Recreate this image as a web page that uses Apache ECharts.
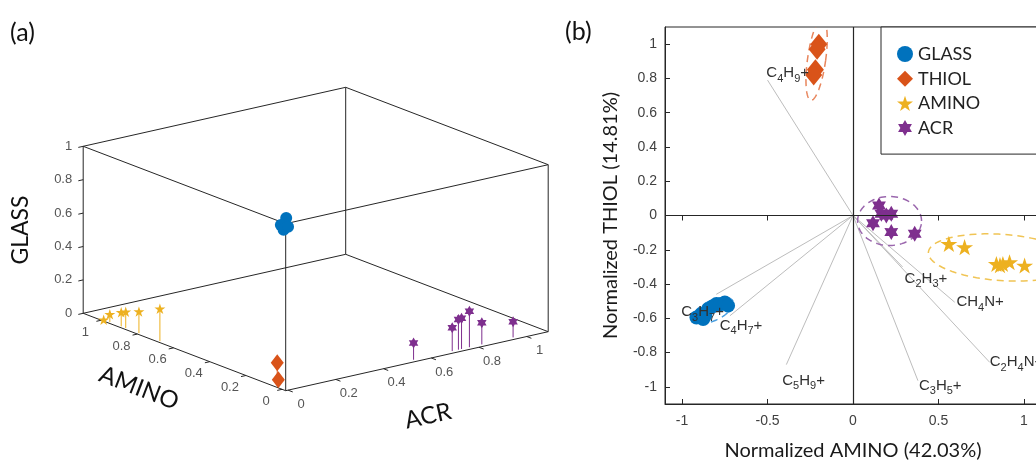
<!DOCTYPE html>
<html><head><meta charset="utf-8">
<script src="https://cdn.jsdelivr.net/npm/echarts@6/dist/echarts.min.js"></script>
<style>html,body{margin:0;padding:0;background:#fff}#c{width:1036px;height:461px}</style>
</head><body><div id="c"></div><script>
// ================= DATA =================
// Panel (a): 3D normalized values (AMINO, ACR, GLASS) per sample
const glass3dAmino = [0.03, 0.02, 0.005, 0.0];
const glass3dAcr   = [0.03, 0.0, 0.0, 0.015];
const glass3dGlass = [1.0, 0.972, 0.95, 0.966];
const thiol3dAmino = [0.04, 0.034];
const thiol3dAcr   = [0.0, 0.0];
const thiol3dGlass = [0.14, 0.04];
const amino3dAmino = [1.0, 0.966, 0.903, 0.878, 0.805, 0.689];
const amino3dAcr   = [0, 0, 0, 0, 0, 0];
const amino3dGlass = [0.0, 0.046, 0.084, 0.098, 0.129, 0.194];
const acr3dAmino   = [0, 0, 0, 0, 0, 0, 0];
const acr3dAcr     = [0.541, 0.703, 0.729, 0.742, 0.775, 0.827, 0.958];
const acr3dGlass   = [0.10, 0.14, 0.18, 0.184, 0.216, 0.13, 0.093];
const ticks3d      = [0, 0.2, 0.4, 0.6, 0.8, 1];
const tickLabels3d = ['0', '0.2', '0.4', '0.6', '0.8', '1'];

// Panel (b): biplot scores
const glassX = [-0.916, -0.887, -0.877, -0.865, -0.848, -0.82, -0.799, -0.78, -0.750, -0.731];
const glassY = [-0.595, -0.575, -0.604, -0.585, -0.546, -0.53, -0.516, -0.52, -0.507, -0.526];
const thiolX = [-0.20, -0.21, -0.22, -0.23];
const thiolY = [1.00, 0.97, 0.85, 0.82];
const aminoX = [0.561, 0.653, 0.839, 0.860, 0.877, 0.916, 1.004];
const aminoY = [-0.166, -0.185, -0.283, -0.290, -0.283, -0.273, -0.292];
const acrX   = [0.152, 0.166, 0.117, 0.195, 0.224, 0.224, 0.361];
const acrY   = [0.058, 0.010, -0.045, 0.0, 0.010, -0.097, -0.107];
// loading vectors (tips) and their text anchors
const loadNames = ['C4H9+', 'C3H7+', 'C4H7+', 'C5H9+', 'C2H3+', 'CH4N+', 'C2H4N+', 'C3H5+'];
const loadX  = [-0.50, -0.80, -0.72, -0.39, 0.29, 0.595, 0.80, 0.38];
const loadY  = [0.79, -0.46, -0.585, -0.87, -0.30, -0.506, -0.857, -0.964];
const labelX = [-0.507, -1.005, -0.78, -0.414, 0.302, 0.605, 0.80, 0.386];
const labelY = [0.83, -0.565, -0.643, -0.964, -0.37, -0.506, -0.857, -0.993];
// confidence ellipses: GLASS, THIOL, AMINO, ACR
const ellCx  = [-0.82, -0.213, 0.87, 0.214];
const ellCy  = [-0.555, 0.91, -0.245, -0.032];
const ellRx  = [0.13, 0.053, 0.43, 0.187];
const ellRy  = [0.058, 0.24, 0.135, 0.143];
const ellAng = [25, -8, -4, 0];
const xTicksB = [-1, -0.5, 0, 0.5, 1];
const yTicksB = [-1, -0.8, -0.6, -0.4, -0.2, 0, 0.2, 0.4, 0.6, 0.8, 1];

// ================= STYLE / VIEW =================
const COL = {GLASS:'#0072BD', THIOL:'#D95319', AMINO:'#EDB120', ACR:'#7E2F8E'};
const ELLCOL = ['#4a9fe0', '#e8855c', '#f0c454', '#9a66ad'];
const AX = '#262626';
function starPath(n, inner){
  const pts=[];
  for(let k=0;k<2*n;k++){
    const r = k%2===0?1:inner, ang = -Math.PI/2 + k*Math.PI/n;
    pts.push((50+50*r*Math.cos(ang)).toFixed(2)+' '+(50+50*r*Math.sin(ang)).toFixed(2));
  }
  return 'path://M'+pts.join(' L')+' Z';
}
const PENTA = starPath(5, 0.382), HEXA = starPath(6, 0.577);

// 3D view (orthographic) for panel (a)
const V = {ox:285.7, oy:390.7, A:[-202.5,-77.4], C:[262.5,-59], G:[0,-167],
           amin:-0.02, amax:1.1, cmin:-0.01, cmax:1.09, gmin:0, gmax:1};
function Pn(u,v,w){ return [V.ox+u*V.A[0]+v*V.C[0]+w*V.G[0], V.oy+u*V.A[1]+v*V.C[1]+w*V.G[1]]; }
function P(a,c,g){ return Pn((a-V.amin)/(V.amax-V.amin),(c-V.cmin)/(V.cmax-V.cmin),(g-V.gmin)/(V.gmax-V.gmin)); }
function nrm(v,l){ const m=Math.hypot(v[0],v[1]); return [v[0]/m*l, v[1]/m*l]; }

function boxRender(params, api){
  const ch=[];
  const seg=(p,q)=>{const a=api.coord(p), b=api.coord(q);
    ch.push({type:'line', shape:{x1:a[0],y1:a[1],x2:b[0],y2:b[1]}, style:{stroke:AX, lineWidth:1}});};
  for(let u=0;u<2;u++)for(let v=0;v<2;v++)for(let w=0;w<2;w++){
    if(u===0) seg(Pn(0,v,w),Pn(1,v,w));
    if(v===0) seg(Pn(u,0,w),Pn(u,1,w));
    if(w===0) seg(Pn(u,v,0),Pn(u,v,1));
  }
  const tC = nrm([-V.C[0],-V.C[1]],5), tA = nrm([-V.A[0],-V.A[1]],5);
  const lab=(p,txt,align)=>{const a=api.coord(p);
    ch.push({type:'text', x:a[0], y:a[1], style:{text:txt, align:align, verticalAlign:'middle',
      fontFamily:'Liberation Sans', fontSize:13, fill:'#555'}});};
  ticks3d.forEach((t,i)=>{
    let p=P(V.amax,V.cmin,t); seg(p,[p[0]+tC[0],p[1]+tC[1]]); lab([p[0]-11,p[1]],tickLabels3d[i],'right');
    p=P(t,V.cmin,0); seg(p,[p[0]+tC[0],p[1]+tC[1]]); lab([p[0]-16,p[1]+12],tickLabels3d[i],'center');
    p=P(V.amin,t,0); seg(p,[p[0]+tA[0],p[1]+tA[1]]); lab([p[0]+13,p[1]+14],tickLabels3d[i],'center');
  });
  return {type:'group', children:ch};
}
function stemSeries(name,A,C,G){
  return {type:'custom', name:name+'_stem', xAxisIndex:0, yAxisIndex:0, z:2, silent:true,
    data: A.map((a,i)=>[a,C[i],G[i]]),
    renderItem:(params,api)=>{
      const a=api.value(0), c=api.value(1), g=api.value(2);
      const p=api.coord(P(a,c,0)), q=api.coord(P(a,c,g));
      return {type:'line', shape:{x1:p[0],y1:p[1],x2:q[0],y2:q[1]}, style:{stroke:COL[name], lineWidth:1}};
    }};
}
function pts3d(name,A,C,G,sym,size){
  return {type:'scatter', name:name, xAxisIndex:0, yAxisIndex:0, z:3, symbol:sym, symbolSize:size,
    symbolKeepAspect:true, itemStyle:{color:COL[name], opacity:1},
    data: A.map((a,i)=>P(a,C[i],G[i]))};
}
function pts2d(name,X,Y,sym,size){
  return {type:'scatter', name:name, xAxisIndex:1, yAxisIndex:1, z:4, symbol:sym, symbolSize:size,
    symbolKeepAspect:true, itemStyle:{color:COL[name], opacity:1},
    data: X.map((x,i)=>[x,Y[i]])};
}
function richText(s){
  return s.replace(/(\d+)|([^\d]+)/g,(m,d,t)=> d?('{s|'+d+'}'):('{n|'+t+'}'));
}

const option = {
  animation:false,
  backgroundColor:'#fff',
  grid:[
    {left:0, top:0, width:560, height:461, show:false, outerBoundsMode:'none'},
    {left:665, top:27, width:376, height:377, show:true, borderColor:AX, borderWidth:1, backgroundColor:'transparent', outerBoundsMode:'none'}
  ],
  xAxis:[
    {gridIndex:0, type:'value', min:0, max:560, show:false},
    {gridIndex:1, type:'value', min:-1.1, max:1.1, position:'bottom',
     axisLine:{show:true, onZero:false, lineStyle:{color:AX, width:1}},
     axisTick:{show:true, inside:true, length:5, customValues:xTicksB, lineStyle:{color:AX}},
     axisLabel:{show:true, customValues:xTicksB, margin:10, color:'#404040', fontFamily:'Liberation Sans', fontSize:14,
       formatter:v=>String(v)},
     splitLine:{show:false},
     name:'Normalized AMINO (42.03%)', nameLocation:'middle', nameGap:37,
     nameTextStyle:{fontFamily:'Lato', fontSize:20, color:'#1a1a1a'}},
    {gridIndex:1, type:'value', min:-1.1, max:1.1, position:'top',
     axisLine:{show:false},
     axisTick:{show:true, inside:true, length:5, customValues:xTicksB, lineStyle:{color:AX}},
     axisLabel:{show:false}, splitLine:{show:false}}
  ],
  yAxis:[
    {gridIndex:0, type:'value', min:0, max:461, inverse:true, show:false},
    {gridIndex:1, type:'value', min:-1.1, max:1.1, position:'left',
     axisLine:{show:true, onZero:false, lineStyle:{color:AX, width:1}},
     axisTick:{show:true, inside:true, length:5, customValues:yTicksB, lineStyle:{color:AX}},
     axisLabel:{show:true, customValues:yTicksB, margin:8, color:'#404040', fontFamily:'Liberation Sans', fontSize:14,
       formatter:v=>String(Math.round(v*10)/10)},
     splitLine:{show:false},
     name:'Normalized THIOL (14.81%)', nameLocation:'middle', nameGap:44, nameRotate:90,
     nameTextStyle:{fontFamily:'Lato', fontSize:20, color:'#1a1a1a'}}
  ],
  legend:{
    data:['GLASS','THIOL','AMINO','ACR'], orient:'vertical', left:881, top:27,
    padding:[18,110,17,16], itemGap:6.7, itemWidth:16, itemHeight:16,
    borderColor:AX, borderWidth:1, backgroundColor:'#fff', selectedMode:false,
    itemStyle:{borderWidth:0},
    textStyle:{fontFamily:'Lato', fontSize:18, color:'#222'}
  },
  graphic:[
    {type:'text', x:10, y:33, style:{text:'(a)', fontFamily:'Lato', fontSize:25, fill:'#111', verticalAlign:'middle'}},
    {type:'text', x:565, y:32, style:{text:'(b)', fontFamily:'Lato', fontSize:25, fill:'#111', verticalAlign:'middle'}},
    {type:'text', x:21, y:230, rotation:Math.PI/2, style:{text:'GLASS', fontFamily:'Lato', fontSize:23, fill:'#111', align:'center', verticalAlign:'middle'}},
    {type:'text', x:139, y:388, rotation:-21*Math.PI/180, style:{text:'AMINO', fontFamily:'Lato', fontSize:24, fill:'#111', align:'center', verticalAlign:'middle'}},
    {type:'text', x:428, y:416, rotation:12.7*Math.PI/180, style:{text:'ACR', fontFamily:'Lato', fontSize:24, fill:'#111', align:'center', verticalAlign:'middle'}}
  ],
  series:[
    pts2d('GLASS', glassX, glassY, 'circle', 14),
    pts2d('THIOL', thiolX, thiolY, 'diamond', [17,21]),
    pts2d('AMINO', aminoX, aminoY, PENTA, 17),
    pts2d('ACR', acrX, acrY, HEXA, 16),
    {type:'custom', name:'loadings', xAxisIndex:1, yAxisIndex:1, z:1, silent:true,
     data: loadX.map((x,i)=>[x,loadY[i]]),
     renderItem:(params,api)=>{
       const o=api.coord([0,0]), t=api.coord([api.value(0),api.value(1)]);
       return {type:'line', shape:{x1:o[0],y1:o[1],x2:t[0],y2:t[1]}, style:{stroke:'#bdbdbd', lineWidth:1}};
     },
     markLine:{silent:true, symbol:['none','none'], label:{show:false},
       lineStyle:{color:AX, width:1.2, type:'solid'}, data:[{xAxis:0},{yAxis:0}]}},
    {type:'custom', name:'ellipses', xAxisIndex:1, yAxisIndex:1, z:2, silent:true, clip:true,
     data: ellCx.map((x,i)=>[x,ellCy[i],ellRx[i],ellRy[i],ellAng[i]]),
     renderItem:(params,api)=>{
       const cx=api.value(0), cy=api.value(1), rx=api.value(2), ry=api.value(3), an=api.value(4)*Math.PI/180;
       const pts=[];
       for(let k=0;k<=96;k++){
         const t=k/96*2*Math.PI, lx=rx*Math.cos(t), ly=ry*Math.sin(t);
         pts.push(api.coord([cx+lx*Math.cos(an)-ly*Math.sin(an), cy+lx*Math.sin(an)+ly*Math.cos(an)]));
       }
       return {type:'polyline', shape:{points:pts}, style:{stroke:ELLCOL[params.dataIndex], lineWidth:1.5, lineDash:[7,5], fill:null}};
     }},
    {type:'custom', name:'loadlabels', xAxisIndex:1, yAxisIndex:1, z:6, silent:true, clip:false,
     data: labelX.map((x,i)=>[x,labelY[i]]),
     renderItem:(params,api)=>{
       const l=api.coord([api.value(0),api.value(1)]);
       return {type:'text', x:l[0], y:l[1], style:{text:richText(loadNames[params.dataIndex]), align:'left', verticalAlign:'middle',
         rich:{n:{fontFamily:'Liberation Sans', fontSize:15, fill:'#303030', lineHeight:22, verticalAlign:'middle'},
               s:{fontFamily:'Liberation Sans', fontSize:11, fill:'#303030', lineHeight:13, verticalAlign:'bottom'}}}};
     }},
    {type:'custom', name:'box3d', xAxisIndex:0, yAxisIndex:0, z:1, silent:true, clip:false,
     data:[[0,0]], renderItem:boxRender},
    stemSeries('THIOL', thiol3dAmino, thiol3dAcr, thiol3dGlass),
    stemSeries('AMINO', amino3dAmino, amino3dAcr, amino3dGlass),
    stemSeries('ACR', acr3dAmino, acr3dAcr, acr3dGlass),
    pts3d('GLASS', glass3dAmino, glass3dAcr, glass3dGlass, 'circle', 12),
    pts3d('THIOL', thiol3dAmino, thiol3dAcr, thiol3dGlass, 'diamond', [13,17]),
    pts3d('AMINO', amino3dAmino, amino3dAcr, amino3dGlass, PENTA, 11),
    pts3d('ACR', acr3dAmino, acr3dAcr, acr3dGlass, HEXA, 11)
  ]
};
const chart = echarts.init(document.getElementById('c'), null, {renderer:'canvas', width:1036, height:461});
chart.setOption(option);
</script></body></html>
